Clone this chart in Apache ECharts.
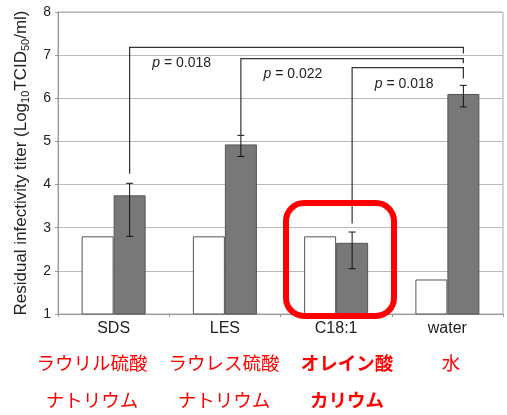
<!DOCTYPE html>
<html>
<head>
<meta charset="utf-8">
<script src="https://cdn.jsdelivr.net/npm/echarts@6/dist/echarts.min.js"></script>
<style>
  html, body { margin: 0; padding: 0; background: #fff; }
  #chart { width: 507px; height: 415px; }
</style>
</head>
<body>
<div id="chart"></div>
<script>
// Surfactant groups and their Japanese names
var categories = ['SDS', 'LES', 'C18:1', 'water'];
var jaNameLine1 = ['ラウリル硫酸', 'ラウレス硫酸', 'オレイン酸', '水'];
var jaNameLine2 = ['ナトリウム', 'ナトリウム', 'カリウム', ''];
var jaBold = [false, false, true, false];

// Residual titers (log10 TCID50/ml)
var controlTiter = [2.8, 2.8, 2.8, 1.8];
var treatedTiter = [3.75, 4.93, 2.65, 6.1];
var treatedLow = [2.8, 4.65, 2.05, 5.8];
var treatedHigh = [4.03, 5.14, 2.9, 6.3];

// Pairwise comparisons against water
var compareFrom = [0, 1, 2];
var compareTo = [3, 3, 3];
var pValues = ['0.018', '0.022', '0.018'];
var bracketTop = [7.18, 6.92, 6.71];
var bracketLeftEnd = [4.25, 5.13, 3.1];
var bracketRightEnd = [7.04, 6.81, 6.46];

var yTicks = [1, 8, 1]; // min, max, interval

var BAR_W = 32;
var SANS = '"Liberation Sans", Arial, sans-serif';
var JA = '"Noto Sans CJK JP", sans-serif';

var chart = echarts.init(document.getElementById('chart'));

var errorData = categories.map(function (c, i) {
  return [i, treatedLow[i], treatedHigh[i]];
});
var bracketData = compareFrom.map(function (f, i) {
  return [f, compareTo[i], bracketTop[i], bracketLeftEnd[i], bracketRightEnd[i], pValues[i]];
});

var graphics = [];
categories.forEach(function (c, i) {
  var cx = [92, 224, 347, 451][i];
  var font = (jaBold[i] ? 'bold ' : '') + '18.5px ' + JA;
  graphics.push({
    type: 'text', x: cx, y: 363,
    style: { text: jaNameLine1[i], fill: '#ff0000', font: font,
      textAlign: 'center', textVerticalAlign: 'middle' }
  });
  if (jaNameLine2[i]) {
    graphics.push({
      type: 'text', x: cx, y: 400,
      style: { text: jaNameLine2[i], fill: '#ff0000', font: font,
        textAlign: 'center', textVerticalAlign: 'middle' }
    });
  }
});
// highlight frame around the oleate group
graphics.push({
  type: 'rect', z: 100,
  shape: { x: 286, y: 203, width: 108, height: 113, r: 18 },
  style: { fill: 'none', stroke: '#ff0000', lineWidth: 6 }
});

chart.setOption({
  animation: false,
  grid: { left: 58, right: 4, top: 12, bottom: 101, show: true, borderColor: '#aaaaaa', borderWidth: 1 },
  xAxis: {
    type: 'category',
    data: categories,
    axisLine: { lineStyle: { color: '#999999', width: 1 } },
    axisTick: { show: true, length: 3, lineStyle: { color: '#999999' } },
    axisLabel: { color: '#222222', fontSize: 16, fontFamily: SANS, margin: 7 },
    splitLine: { show: false }
  },
  yAxis: {
    type: 'value',
    min: yTicks[0], max: yTicks[1], interval: yTicks[2],
    name: '{n|Residual infectivity titer (Log}{s|10}{n|TCID}{s|50}{n|/ml)}',
    nameLocation: 'middle',
    nameGap: 27,
    nameRotate: 90,
    nameTextStyle: {
      rich: {
        n: { fontSize: 17, fontFamily: SANS, color: '#222222' },
        s: { fontSize: 11, fontFamily: SANS, color: '#222222', padding: [8, 0, 0, 0] }
      }
    },
    axisLine: { show: true, lineStyle: { color: '#999999' } },
    axisTick: { show: true, length: 3, lineStyle: { color: '#999999' } },
    axisLabel: { color: '#222222', fontSize: 14, fontFamily: SANS, margin: 7 },
    splitLine: { lineStyle: { color: '#b8b8b8', width: 1 } }
  },
  series: [
    {
      name: 'control', type: 'bar', data: controlTiter, barWidth: BAR_W, barGap: '0%',
      itemStyle: { color: '#ffffff', borderColor: '#555555', borderWidth: 1 }
    },
    {
      name: 'treated', type: 'bar', data: treatedTiter, barWidth: BAR_W, barGap: '0%',
      itemStyle: { color: '#787878', borderColor: '#555555', borderWidth: 1 }
    },
    {
      name: 'error', type: 'custom', z: 5,
      data: errorData,
      encode: { x: 0, y: [1, 2] },
      renderItem: function (params, api) {
        var lo = api.coord([api.value(0), api.value(1)]);
        var hi = api.coord([api.value(0), api.value(2)]);
        var x = lo[0] + BAR_W / 2;
        var cap = 3.5;
        var st = { stroke: '#111111', lineWidth: 1 };
        return {
          type: 'group',
          children: [
            { type: 'line', shape: { x1: x, y1: lo[1], x2: x, y2: hi[1] }, style: st },
            { type: 'line', shape: { x1: x - cap, y1: lo[1], x2: x + cap, y2: lo[1] }, style: st },
            { type: 'line', shape: { x1: x - cap, y1: hi[1], x2: x + cap, y2: hi[1] }, style: st }
          ]
        };
      }
    },
    {
      name: 'brackets', type: 'custom', z: 6,
      data: bracketData,
      encode: { x: 0, y: 2 },
      renderItem: function (params, api) {
        var from = api.value(0), to = api.value(1);
        var top = api.value(2), le = api.value(3), re = api.value(4);
        var pTxt = bracketData[params.dataIndex][5];
        var a = api.coord([from, le]);
        var b = api.coord([from, top]);
        var c = api.coord([to, top]);
        var d = api.coord([to, re]);
        var xl = a[0] + BAR_W / 2, xr = c[0] + BAR_W / 2;
        return {
          type: 'group',
          children: [
            {
              type: 'polyline',
              shape: { points: [[xl, a[1]], [xl, b[1]], [xr, c[1]], [xr, d[1]]] },
              style: { stroke: '#333333', lineWidth: 1.2, fill: null }
            },
            {
              type: 'text',
              x: xl + 52, y: b[1] + 16,
              style: {
                text: '{i|p}{t| = ' + pTxt + '}',
                textAlign: 'center', textVerticalAlign: 'middle',
                rich: {
                  i: { fontSize: 14, fontFamily: SANS, fontStyle: 'italic', fill: '#222222' },
                  t: { fontSize: 14, fontFamily: SANS, fill: '#222222' }
                }
              }
            }
          ]
        };
      }
    }
  ],
  graphic: graphics
});
</script>
</body>
</html>
